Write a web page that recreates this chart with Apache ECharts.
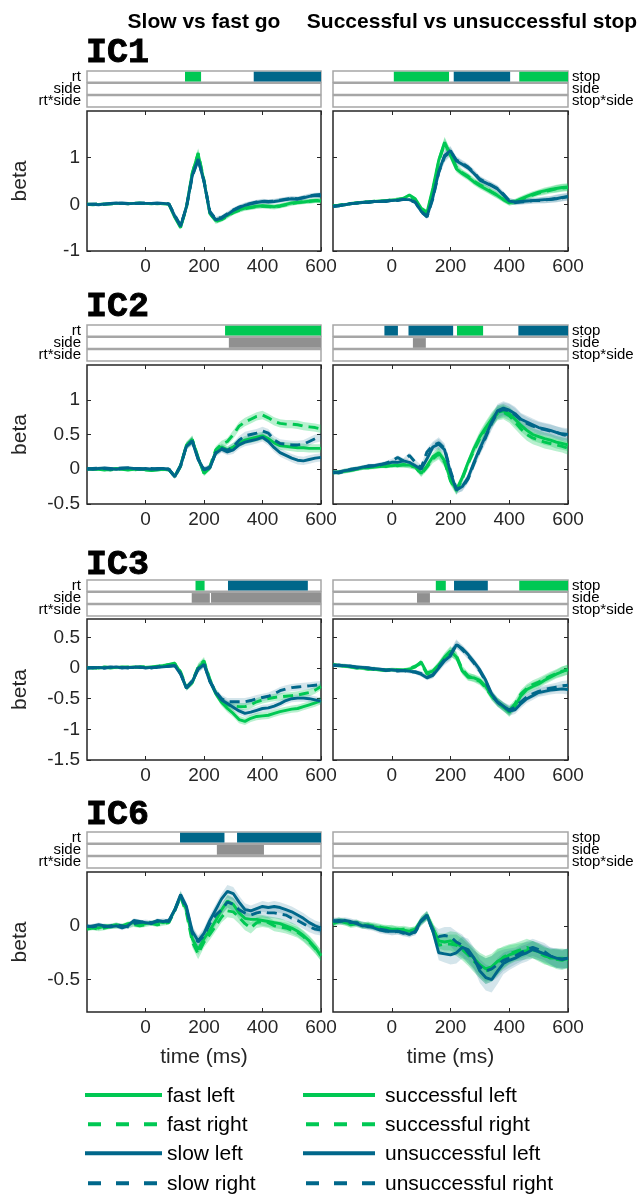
<!DOCTYPE html>
<html><head><meta charset="utf-8">
<script src="https://cdn.jsdelivr.net/npm/echarts@6/dist/echarts.min.js"></script>
<style>html,body{margin:0;padding:0;background:#fff}#c{width:642px;height:1197px}</style>
</head><body><div id="c"></div>
<script>
// ---------- DATA ----------
const time = [-200,-180,-160,-140,-120,-100,-80,-60,-40,-20,0,20,40,60,80,100,120,140,160,180,200,220,240,260,280,300,320,340,360,380,400,420,440,460,480,500,520,540,560,580,600];
const xTickValues = [0,200,400,600];

// IC1 slow vs fast go
const ic1_fastL = [0.00,-0.01,0.00,0.01,0.01,0.02,0.02,0.02,0.02,0.02, 0.02,0.01,0.02,0.01,0.00,-0.28,-0.50,-0.05,0.68,1.08, 0.50,-0.20,-0.35,-0.31,-0.24,-0.17,-0.12,-0.08,-0.06,-0.04, -0.03,-0.04,-0.05,-0.03,0.00,0.03,0.04,0.05,0.07,0.08, 0.07];
const ic1_fastR = [0.01,0.00,0.01,0.00,0.01,0.01,0.02,0.01,0.02,0.03, 0.02,0.02,0.01,0.02,0.01,-0.26,-0.48,-0.08,0.66,1.10, 0.52,-0.18,-0.37,-0.33,-0.26,-0.18,-0.13,-0.09,-0.07,-0.05, -0.04,-0.05,-0.06,-0.04,-0.01,0.02,0.04,0.06,0.06,0.08, 0.09];
const ic1_slowL = [0.00,0.00,-0.01,0.01,0.02,0.03,0.02,0.01,0.02,0.03, 0.02,0.02,0.03,0.02,0.01,-0.25,-0.47,-0.05,0.62,0.97, 0.48,-0.17,-0.33,-0.30,-0.22,-0.13,-0.07,-0.02,0.01,0.04, 0.06,0.05,0.06,0.08,0.10,0.12,0.11,0.14,0.17,0.19, 0.18];
const ic1_slowR = [0.00,0.01,0.00,0.00,0.01,0.02,0.03,0.02,0.02,0.02, 0.03,0.02,0.02,0.02,0.01,-0.23,-0.45,-0.07,0.60,0.95, 0.50,-0.15,-0.31,-0.28,-0.20,-0.12,-0.06,-0.01,0.02,0.05, 0.07,0.06,0.07,0.09,0.11,0.13,0.12,0.15,0.18,0.20, 0.21];
const ic1_goSE = [0.02,0.02,0.02,0.02,0.02,0.02,0.02,0.02,0.02,0.02, 0.02,0.02,0.02,0.02,0.02,0.03,0.04,0.05,0.08,0.10, 0.08,0.06,0.05,0.05,0.05,0.05,0.05,0.05,0.05,0.05, 0.05,0.05,0.05,0.05,0.05,0.05,0.05,0.05,0.05,0.05, 0.05];
// IC1 successful vs unsuccessful stop
const ic1_succL = [-0.04,-0.02,-0.01,0.02,0.03,0.04,0.05,0.06,0.07,0.08, 0.09,0.10,0.13,0.20,0.12,-0.08,-0.17,0.35,0.95,1.33, 1.05,0.76,0.66,0.58,0.48,0.40,0.33,0.26,0.19,0.10, 0.03,0.06,0.12,0.17,0.22,0.26,0.29,0.32,0.34,0.36, 0.37];
const ic1_succR = [-0.03,-0.02,0.00,0.01,0.03,0.05,0.05,0.07,0.06,0.08, 0.10,0.11,0.12,0.18,0.10,-0.10,-0.19,0.30,0.92,1.30, 1.08,0.80,0.68,0.60,0.50,0.42,0.35,0.27,0.20,0.11, 0.04,0.05,0.10,0.15,0.20,0.24,0.27,0.30,0.33,0.35, 0.36];
const ic1_unsL = [-0.05,-0.03,-0.01,0.01,0.03,0.04,0.05,0.06,0.06,0.07, 0.08,0.09,0.10,0.10,0.05,-0.15,-0.26,0.15,0.70,1.05, 1.15,0.93,0.86,0.78,0.66,0.52,0.46,0.40,0.33,0.20, 0.07,0.05,0.06,0.07,0.08,0.09,0.10,0.10,0.12,0.15, 0.17];
const ic1_unsR = [-0.04,-0.03,0.00,0.02,0.02,0.05,0.04,0.06,0.07,0.06, 0.09,0.08,0.11,0.09,0.04,-0.16,-0.27,0.12,0.68,1.02, 1.13,0.95,0.88,0.80,0.68,0.54,0.47,0.41,0.34,0.22, 0.08,0.04,0.05,0.06,0.08,0.08,0.09,0.11,0.13,0.14, 0.16];
const ic1_stopSE = [0.03,0.03,0.03,0.03,0.03,0.03,0.03,0.03,0.03,0.03, 0.03,0.03,0.03,0.03,0.03,0.04,0.05,0.06,0.10,0.12, 0.10,0.08,0.07,0.07,0.07,0.07,0.07,0.07,0.07,0.06, 0.06,0.06,0.06,0.06,0.06,0.06,0.07,0.07,0.08,0.08, 0.08];

// IC2
const ic2_fastL = [0.01,0.00,0.00,-0.01,0.00,0.01,0.00,-0.01,0.00,0.01, -0.01,-0.02,-0.01,0.00,-0.01,-0.10,0.06,0.35,0.42,0.16, -0.06,0.02,0.25,0.32,0.28, 0.32,0.38,0.42,0.44,0.46, 0.48,0.44,0.38,0.34,0.33,0.32,0.31,0.31,0.30,0.30, 0.30];
const ic2_fastR = [0.00,0.01,0.00,0.00,-0.01,0.00,0.01,0.00,-0.01,0.00, 0.00,-0.01,0.00,-0.01,0.00,-0.11,0.04,0.34,0.43,0.17, -0.05,0.04,0.28,0.36,0.40, 0.50,0.62,0.68,0.72,0.76, 0.78,0.74,0.69,0.66,0.65,0.65,0.64,0.62,0.61,0.60, 0.58];
const ic2_slowL = [0.01,0.00,0.01,0.02,0.01,0.00,0.01,0.02,0.01,0.00, 0.01,0.00,0.01,0.01,0.00,-0.11,0.05,0.33,0.40,0.14, -0.01,0.02,0.23,0.29,0.25, 0.28,0.35,0.39,0.41,0.43, 0.46,0.40,0.31,0.24,0.20,0.16,0.13,0.12,0.14,0.16, 0.17];
const ic2_slowR = [0.00,0.01,0.02,0.01,0.00,0.01,0.02,0.02,0.01,0.01, 0.00,0.01,0.00,0.01,0.00,-0.10,0.05,0.34,0.41,0.15, 0.00,0.03,0.24,0.30,0.27, 0.32,0.42,0.48,0.50,0.52, 0.55,0.52,0.42,0.37,0.36,0.35,0.35,0.36,0.40,0.44, 0.46];
const ic2_goSE = [0.02,0.02,0.02,0.02,0.02,0.02,0.02,0.02,0.02,0.02, 0.02,0.02,0.02,0.02,0.02,0.03,0.04,0.05,0.06,0.05, 0.04,0.04,0.05,0.05,0.05,0.06,0.06,0.06,0.06,0.06, 0.06,0.06,0.06,0.06,0.06,0.06,0.06,0.06,0.06,0.06, 0.06];
const ic2_succL = [-0.05,-0.04,-0.03,-0.02,0.00,0.02,0.03,0.03,0.04,0.05, 0.05,0.06,0.06,0.06,0.04,-0.06,0.05,0.18,0.24,0.12, -0.15,-0.30,-0.12,0.10,0.30, 0.47,0.60,0.72,0.82,0.84, 0.80,0.72,0.63,0.56,0.50,0.47,0.44,0.42,0.39,0.37, 0.35];
const ic2_succR = [-0.04,-0.05,-0.02,-0.01,0.01,0.02,0.02,0.04,0.05,0.04, 0.06,0.05,0.07,0.05,0.03,-0.07,0.03,0.15,0.22,0.10, -0.17,-0.31,-0.14,0.08,0.27, 0.44,0.58,0.70,0.80,0.82, 0.77,0.68,0.58,0.50,0.45,0.42,0.39,0.37,0.35,0.33, 0.30];
const ic2_unsL = [-0.05,-0.04,-0.02,-0.01,0.01,0.03,0.04,0.05,0.07,0.08, 0.10,0.10,0.12,0.10,0.05,0.00,0.15,0.32,0.36,0.28, -0.05,-0.30,-0.25,-0.12,0.10, 0.30,0.48,0.68,0.84,0.88, 0.85,0.80,0.72,0.68,0.64,0.60,0.58,0.56,0.53,0.51, 0.50];
const ic2_unsR = [-0.04,-0.05,-0.03,0.00,0.01,0.02,0.05,0.05,0.06,0.09, 0.12,0.17,0.12,0.20,0.10,0.02,0.25,0.34,0.38,0.30, -0.02,-0.28,-0.26,-0.14,0.08, 0.28,0.46,0.66,0.82,0.86, 0.84,0.78,0.71,0.66,0.62,0.59,0.57,0.55,0.53,0.50, 0.48];
const ic2_stopSE = [0.03,0.03,0.03,0.03,0.03,0.03,0.03,0.03,0.03,0.03, 0.03,0.03,0.04,0.04,0.04,0.04,0.05,0.06,0.08,0.07, 0.06,0.06,0.06,0.06,0.07,0.08,0.09,0.10,0.10,0.10, 0.10,0.10,0.09,0.09,0.09,0.09,0.09,0.09,0.09,0.09, 0.09];

// IC3
const ic3_fastL = [0.00,0.01,0.00,0.01,0.00,0.01,0.02,0.01,0.02,0.01, 0.01,0.02,0.03,0.04,0.06,0.08,-0.08,-0.33,-0.24,0.00, 0.10,-0.20,-0.42,-0.56,-0.66, -0.74,-0.84,-0.87,-0.82,-0.79, -0.78,-0.77,-0.74,-0.71,-0.69,-0.67,-0.66,-0.63,-0.60,-0.57, -0.53];
const ic3_fastR = [0.01,0.00,0.00,0.02,0.01,0.00,0.01,0.02,0.01,0.02, 0.02,0.01,0.02,0.05,0.05,0.07,-0.06,-0.31,-0.22,0.02, 0.12,-0.18,-0.40,-0.54,-0.60, -0.62,-0.63,-0.63,-0.60,-0.55, -0.52,-0.50,-0.48,-0.47,-0.46,-0.45,-0.44,-0.42,-0.40,-0.36, -0.30];
const ic3_slowL = [0.00,0.00,0.01,0.00,0.01,0.02,0.00,0.01,0.01,0.02, 0.00,0.01,0.01,0.02,0.03,0.04,-0.10,-0.33,-0.22,-0.02, 0.06,-0.22,-0.40,-0.52,-0.58, -0.64,-0.70,-0.74,-0.72,-0.69, -0.66,-0.65,-0.62,-0.58,-0.53,-0.50,-0.49,-0.49,-0.50,-0.52, -0.54];
const ic3_slowR = [0.00,0.01,0.00,0.00,0.02,0.01,0.01,0.00,0.02,0.01, 0.01,0.00,0.02,0.02,0.03,0.04,-0.09,-0.32,-0.21,-0.01, 0.07,-0.21,-0.38,-0.50,-0.55, -0.55,-0.55,-0.55,-0.53,-0.50, -0.48,-0.46,-0.42,-0.37,-0.34,-0.32,-0.31,-0.30,-0.29,-0.28, -0.27];
const ic3_goSE = [0.02,0.02,0.02,0.02,0.02,0.02,0.02,0.02,0.02,0.02, 0.02,0.02,0.02,0.02,0.02,0.03,0.04,0.04,0.05,0.06, 0.06,0.05,0.05,0.06,0.06,0.06,0.06,0.06,0.06,0.06, 0.06,0.06,0.06,0.06,0.06,0.06,0.06,0.06,0.06,0.06, 0.06];
const ic3_succL = [0.05,0.04,0.03,0.02,0.01,0.00,-0.01,-0.02,-0.03,-0.03, -0.03,-0.03,-0.03,-0.02,0.02,0.10,-0.08,-0.05,0.05,0.18, 0.28,0.18,-0.05,-0.15,-0.16, -0.20,-0.30,-0.45,-0.55,-0.63, -0.72,-0.62,-0.45,-0.35,-0.30,-0.26,-0.20,-0.15,-0.10,-0.06, -0.02];
const ic3_succR = [0.06,0.04,0.04,0.02,0.00,0.00,-0.02,-0.01,-0.03,-0.04, -0.02,-0.03,-0.04,-0.01,0.03,0.08,-0.10,-0.06,0.04,0.16, 0.26,0.20,-0.02,-0.13,-0.17, -0.22,-0.32,-0.46,-0.56,-0.64, -0.70,-0.58,-0.42,-0.33,-0.27,-0.23,-0.18,-0.13,-0.09,-0.05, -0.03];
const ic3_unsL = [0.05,0.04,0.04,0.03,0.02,0.01,0.00,-0.01,-0.02,-0.03, -0.03,-0.04,-0.04,-0.05,-0.07,-0.10,-0.16,-0.12,0.00,0.12, 0.20,0.38,0.32,0.22,0.10, -0.03,-0.20,-0.42,-0.55,-0.62, -0.70,-0.68,-0.58,-0.50,-0.45,-0.40,-0.38,-0.36,-0.35,-0.34, -0.35];
const ic3_unsR = [0.04,0.05,0.03,0.03,0.01,0.01,0.00,-0.02,-0.02,-0.04, -0.03,-0.05,-0.04,-0.06,-0.06,-0.09,-0.15,-0.11,0.02,0.14, 0.22,0.40,0.30,0.20,0.08, -0.05,-0.22,-0.44,-0.56,-0.63, -0.68,-0.64,-0.55,-0.47,-0.42,-0.38,-0.35,-0.33,-0.31,-0.29, -0.28];
const ic3_stopSE = [0.03,0.03,0.03,0.03,0.03,0.03,0.03,0.03,0.03,0.03, 0.03,0.03,0.03,0.03,0.03,0.04,0.04,0.05,0.06,0.07, 0.08,0.07,0.06,0.06,0.06,0.06,0.06,0.07,0.07,0.07, 0.08,0.07,0.07,0.07,0.07,0.07,0.07,0.07,0.07,0.08, 0.08];

// IC6
const ic6_fastL = [-0.02,-0.01,-0.02,0.00,0.00,0.01,0.00,0.02,0.03,0.02, 0.02,0.03,0.04,0.03,0.04,0.15,0.28,0.15,-0.12,-0.22, -0.12,-0.04,0.05,0.15,0.23, 0.20,0.12,0.07,0.06,0.06, 0.05,0.04,0.03,0.02,0.00,-0.02,-0.05,-0.09,-0.14,-0.20, -0.28];
const ic6_fastR = [-0.03,-0.02,-0.03,-0.02,-0.01,-0.01,0.00,0.00,0.01,0.00, 0.01,0.02,0.01,0.02,0.03,0.14,0.27,0.12,-0.15,-0.26, -0.15,-0.08,0.00,0.08,0.14, 0.13,0.08,0.02,-0.02,0.03, 0.04,0.03,0.00,-0.01,-0.02,-0.04,-0.06,-0.10,-0.15,-0.21, -0.27];
const ic6_slowL = [-0.01,0.00,0.01,0.00,-0.01,0.00,-0.02,0.00,0.05,0.04, 0.03,0.02,0.05,0.04,0.05,0.15,0.29,0.18,-0.05,-0.14, -0.07,0.05,0.15,0.25,0.32, 0.30,0.22,0.15,0.14,0.16, 0.18,0.17,0.18,0.17,0.15,0.13,0.10,0.07,0.03,0.00, -0.02];
const ic6_slowR = [0.00,-0.01,0.00,-0.01,0.00,0.01,0.00,-0.01,0.02,0.03, 0.04,0.03,0.04,0.05,0.04,0.14,0.28,0.16,-0.07,-0.15, -0.09,0.02,0.10,0.15,0.22, 0.20,0.15,0.12,0.10,0.12, 0.13,0.12,0.12,0.11,0.10,0.07,0.05,0.02,-0.01,-0.03, -0.04];
const ic6_goSE = [0.02,0.02,0.02,0.02,0.02,0.02,0.02,0.02,0.02,0.02, 0.02,0.02,0.02,0.02,0.02,0.03,0.04,0.04,0.05,0.05, 0.05,0.05,0.05,0.05,0.06,0.06,0.06,0.06,0.05,0.05, 0.05,0.05,0.05,0.05,0.05,0.05,0.05,0.05,0.05,0.05, 0.05];
const ic6_succL = [0.03,0.05,0.03,0.02,0.03,0.00,0.01,-0.01,-0.02,-0.02, -0.03,-0.03,-0.04,-0.05,-0.03,0.05,0.10,-0.02,-0.14,-0.15, -0.14,-0.16,-0.20,-0.25,-0.30, -0.36,-0.40,-0.38,-0.33,-0.30, -0.27,-0.25,-0.24,-0.23,-0.22,-0.24,-0.27,-0.30,-0.30,-0.30, -0.31];
const ic6_succR = [0.02,0.04,0.04,0.01,0.02,0.01,0.00,0.00,-0.01,-0.03, -0.02,-0.04,-0.03,-0.04,-0.04,0.04,0.09,-0.04,-0.18,-0.17, -0.17,-0.18,-0.22,-0.27,-0.33, -0.38,-0.42,-0.40,-0.34,-0.29, -0.26,-0.24,-0.22,-0.20,-0.22,-0.25,-0.28,-0.29,-0.31,-0.32, -0.30];
const ic6_unsL = [0.05,0.04,0.05,0.04,0.02,0.00,0.00,-0.02,-0.04,-0.05, -0.05,-0.05,-0.06,-0.08,-0.05,0.05,0.10,-0.05,-0.25,-0.26, -0.27,-0.25,-0.20,-0.22,-0.30, -0.42,-0.48,-0.50,-0.42,-0.35, -0.32,-0.30,-0.27,-0.25,-0.22,-0.24,-0.26,-0.28,-0.30,-0.31, -0.30];
const ic6_unsR = [0.04,0.05,0.04,0.03,0.03,0.01,-0.01,-0.01,-0.03,-0.04, -0.06,-0.05,-0.07,-0.07,-0.06,0.04,0.09,-0.04,-0.10,-0.09, -0.10,-0.15,-0.18,-0.25,-0.32, -0.38,-0.42,-0.40,-0.36,-0.32, -0.30,-0.28,-0.25,-0.22,-0.20,-0.22,-0.24,-0.28,-0.30,-0.31, -0.30];
const ic6_stopSE = [0.03,0.03,0.03,0.03,0.03,0.03,0.03,0.03,0.03,0.03, 0.03,0.03,0.03,0.03,0.03,0.04,0.04,0.05,0.07,0.08, 0.09,0.10,0.10,0.10,0.10,0.11,0.12,0.12,0.12,0.10, 0.09,0.08,0.08,0.08,0.08,0.08,0.08,0.08,0.09,0.09, 0.09];

// significance strips: [start ms, end ms, colour code] ; 0 = green, 1 = blue, 2 = grey
const sig_ic1_go = [[[135,190,0],[370,600,1]], [], []];
const sig_ic1_stop = [[[7,195,0],[211,403,1],[434,600,0]], [], []];
const sig_ic2_go = [[[272,600,0]], [[285,600,2]], []];
const sig_ic2_stop = [[[-25,21,1],[57,209,1],[222,311,0],[431,600,1]], [[72,116,2]], []];
const sig_ic3_go = [[[171,202,0],[282,555,1]], [[158,220,2],[224,600,2]], []];
const sig_ic3_stop = [[[150,184,0],[212,327,1],[434,600,0]], [[86,130,2]], []];
const sig_ic6_go = [[[118,270,1],[313,600,1]], [[244,405,2]], []];
const sig_ic6_stop = [[], [], []];

const rowNames = ['IC1','IC2','IC3','IC6'];
const yMins = [-1, -0.5, -1.5, -0.8];
const yMaxs = [2, 1.5, 0.8, 0.5];
const yTickValues = [[-1,0,1],[-0.5,0,0.5,1],[-1.5,-1,-0.5,0,0.5],[-0.5,0]];
const colTitles = ['Slow vs fast go','Successful vs unsuccessful stop'];
const stripLabels = [['rt','side','rt*side'],['stop','side','stop*side']];
const legendLeft = ['fast left','fast right','slow left','slow right'];
const legendRight = ['successful left','successful right','unsuccessful left','unsuccessful right'];

// ---------- LAYOUT / STYLE ----------
const GREEN = '#00c853', BLUE = '#00678a', GREY = '#909090';
const BAND = ['rgba(0,200,83,0.28)','rgba(0,200,83,0.28)','rgba(0,103,137,0.17)','rgba(0,103,137,0.17)'];
const LCOL = [GREEN, GREEN, BLUE, BLUE];
const SIGCOL = [GREEN, BLUE, GREY];
const FONT = '"Liberation Sans", Arial, sans-serif';
const colX = [87, 333], colW = [234, 235];
const rowTop = [111, 365, 619, 872], rowH = [140, 139, 141, 140];
const stripTop = [71, 325, 580, 832];
const labelY = [53, 307, 565.5, 815];

const panels = [
  {r:0,c:0,lines:[ic1_fastL,ic1_fastR,ic1_slowL,ic1_slowR],se:ic1_goSE,sig:sig_ic1_go},
  {r:0,c:1,lines:[ic1_succL,ic1_succR,ic1_unsL,ic1_unsR],se:ic1_stopSE,sig:sig_ic1_stop},
  {r:1,c:0,lines:[ic2_fastL,ic2_fastR,ic2_slowL,ic2_slowR],se:ic2_goSE,sig:sig_ic2_go},
  {r:1,c:1,lines:[ic2_succL,ic2_succR,ic2_unsL,ic2_unsR],se:ic2_stopSE,sig:sig_ic2_stop},
  {r:2,c:0,lines:[ic3_fastL,ic3_fastR,ic3_slowL,ic3_slowR],se:ic3_goSE,sig:sig_ic3_go},
  {r:2,c:1,lines:[ic3_succL,ic3_succR,ic3_unsL,ic3_unsR],se:ic3_stopSE,sig:sig_ic3_stop},
  {r:3,c:0,lines:[ic6_fastL,ic6_fastR,ic6_slowL,ic6_slowR],se:ic6_goSE,sig:sig_ic6_go},
  {r:3,c:1,lines:[ic6_succL,ic6_succR,ic6_unsL,ic6_unsR],se:ic6_stopSE,sig:sig_ic6_stop}
];

const option = {animation:false, grid:[], xAxis:[], yAxis:[], series:[], graphic:[]};
function addGrid(left, top, w, h, border, bw){
  option.grid.push({left:left, top:top, width:w, height:h, show:true, borderColor:border, borderWidth:bw, backgroundColor:'transparent'});
  return option.grid.length - 1;
}
function txt(x, y, text, size, opts){
  option.graphic.push(Object.assign({type:'text', x:x, y:y, z:100, silent:true,
    style:Object.assign({text:text, fontSize:size, fontFamily:FONT, fill:'#000', align:'left', verticalAlign:'middle'}, opts && opts.style || {})},
    opts && opts.el || {}));
}
const tickStyle = {color:'#262626', width:1};

panels.forEach(p => {
  const L = colX[p.c], W = colW[p.c];
  const g = addGrid(L, rowTop[p.r], W, rowH[p.r], '#262626', 1.5);
  option.xAxis.push({gridIndex:g, type:'value', min:-200, max:600, position:'bottom',
    axisLine:{show:false, onZero:false}, splitLine:{show:false},
    axisTick:{show:true, inside:true, length:4, customValues:xTickValues, lineStyle:tickStyle},
    axisLabel:{show:true, customValues:xTickValues, fontSize:19, color:'#262626', margin:6, fontFamily:FONT}});
  const xi = option.xAxis.length - 1;
  option.xAxis.push({gridIndex:g, type:'value', min:-200, max:600, position:'top',
    axisLine:{show:false, onZero:false}, splitLine:{show:false},
    axisTick:{show:true, inside:true, length:4, customValues:xTickValues, lineStyle:tickStyle},
    axisLabel:{show:false}});
  option.yAxis.push({gridIndex:g, type:'value', min:yMins[p.r], max:yMaxs[p.r], position:'left',
    axisLine:{show:false, onZero:false}, splitLine:{show:false},
    axisTick:{show:true, inside:true, length:4, customValues:yTickValues[p.r], lineStyle:tickStyle},
    axisLabel:{show:p.c === 0, customValues:yTickValues[p.r], fontSize:19, color:'#262626', margin:7, fontFamily:FONT}});
  const yi = option.yAxis.length - 1;
  option.yAxis.push({gridIndex:g, type:'value', position:'right', min:yMins[p.r], max:yMaxs[p.r],
    axisLine:{show:false, onZero:false}, splitLine:{show:false},
    axisTick:{show:true, inside:true, length:4, customValues:yTickValues[p.r], lineStyle:tickStyle},
    axisLabel:{show:false}});

  // confidence bands
  p.lines.forEach((vals, k) => {
    option.series.push({type:'custom', xAxisIndex:xi, yAxisIndex:yi, data:[[0,0]], silent:true, z:1,
      renderItem:(params, api) => {
        const pts = [];
        for (let i = 0; i < time.length; i++) pts.push(api.coord([time[i], vals[i] + p.se[i]]));
        for (let i = time.length - 1; i >= 0; i--) pts.push(api.coord([time[i], vals[i] - p.se[i]]));
        return {type:'polygon', shape:{points:pts}, style:{fill:BAND[k]}};
      }});
  });
  // mean lines
  p.lines.forEach((vals, k) => {
    option.series.push({type:'line', xAxisIndex:xi, yAxisIndex:yi, z:3 + k, silent:true,
      data: time.map((t, i) => [t, vals[i]]), showSymbol:false, symbol:'none',
      lineStyle:{color:LCOL[k], width:2.9, type:(k % 2 === 1) ? [10,6] : 'solid'}});
  });

  // significance strips
  for (let s = 0; s < 3; s++) {
    const gs = addGrid(L, stripTop[p.r] + s * 12.3, W, 11.3, '#a6a6a6', 1.5);
    option.xAxis.push({gridIndex:gs, type:'value', min:-200, max:600, show:false});
    option.yAxis.push({gridIndex:gs, type:'value', min:0, max:1, show:false});
    const sxi = option.xAxis.length - 1, syi = option.yAxis.length - 1;
    if (p.sig[s].length) {
      option.series.push({type:'custom', xAxisIndex:sxi, yAxisIndex:syi, silent:true, z:2,
        data:p.sig[s], encode:{x:[0,1]},
        renderItem:(params, api) => {
          const a = api.coord([api.value(0), 1]);
          const b = api.coord([api.value(1), 0]);
          return {type:'rect', shape:{x:a[0], y:a[1] + 0.8, width:b[0] - a[0], height:b[1] - a[1] - 1.6},
                  style:{fill:SIGCOL[api.value(2)]}};
        }});
    }
    if (p.c === 0) txt(81, stripTop[p.r] + s * 12.3 + 5.6, stripLabels[0][s], 15, {style:{align:'right'}});
    else txt(572, stripTop[p.r] + s * 12.3 + 5.6, stripLabels[1][s], 15, {style:{align:'left'}});
  }
  if (p.c === 0) {
    txt(20.5, rowTop[p.r] + rowH[p.r] / 2, 'beta', 21, {style:{align:'center', fill:'#262626'}, el:{rotation:Math.PI / 2}});
    txt(86, labelY[p.r], rowNames[p.r], 35, {style:{fontWeight:'bold', fontFamily:'"Liberation Mono", "DejaVu Sans Mono", monospace', stroke:'#000', lineWidth:0.9}});
  }
});

// column titles
txt(204, 22, colTitles[0], 21, {style:{align:'center', fontWeight:'bold'}});
txt(472, 22, colTitles[1], 21, {style:{align:'center', fontWeight:'bold'}});
// x axis titles
txt(204, 1057, 'time (ms)', 21, {style:{align:'center', fill:'#262626'}});
txt(450.5, 1057, 'time (ms)', 21, {style:{align:'center', fill:'#262626'}});

// legend
const legY = [1095, 1124.3, 1153.3, 1183.3];
const legendCols = [{x1:85, x2:162, tx:167, labels:legendLeft}, {x1:303, x2:375, tx:385, labels:legendRight}];
legendCols.forEach(col => {
  col.labels.forEach((lab, k) => {
    const dashed = k % 2 === 1;
    option.graphic.push({type:'line', z:100, silent:true,
      shape:{x1:dashed ? col.x1 + 3 : col.x1, y1:legY[k], x2:col.x2, y2:legY[k]},
      style:{stroke:LCOL[k], lineWidth:4, lineDash:dashed ? [13,15] : null}});
    txt(col.tx, legY[k] + 1, lab, 21, {style:{fill:'#000'}});
  });
});

const chart = echarts.init(document.getElementById('c'), null, {renderer:'canvas', width:642, height:1197});
chart.setOption(option);
</script>
</body></html>
